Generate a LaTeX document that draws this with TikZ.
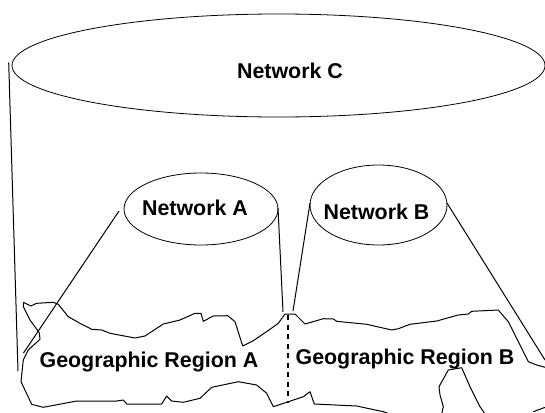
\documentclass[tikz,border=0pt]{standalone}
\usepackage{fontspec}
\setmainfont{Liberation Sans}
\usetikzlibrary{shapes.geometric}
\tikzset{
  netell/.style={ellipse,draw=black,line width=0.8pt,inner sep=0pt,fill=none},
  lab/.style={font=\fontsize{21.4}{24}\selectfont\bfseries,inner sep=0pt,text=black},
  wire/.style={draw=black,line width=1pt},
  outline/.style={draw=black,line width=1pt,line join=round},
  regionsplit/.style={draw=black,line width=1.9pt,dash pattern=on 5pt off 4.5pt}
}
\begin{document}
\begin{tikzpicture}[x=1pt,y=-1pt]
\useasboundingbox (0,0) rectangle (545,412);
\clip (0,0) rectangle (545,412);
\node[netell,minimum width=533pt,minimum height=103pt] (netC) at (278.5,65.5) {};
\node[netell,minimum width=154pt,minimum height=72pt] (netA) at (201,209) {};
\node[netell,minimum width=137pt,minimum height=80pt] (netB) at (378.5,205) {};
\node[lab] (tC) at (290,70.5) {Network C};
\node[lab] (tA) at (195,208) {Network A};
\node[lab] (tB) at (376.5,212) {Network B};
\node[lab] (tGA) at (149,362) {Geographic Region A};
\node[lab] (tGB) at (405,359) {Geographic Region B};
\coordinate (cs) at (8.7,62.5);
\coordinate (ce) at (18,371);
\coordinate (als) at (119,211);
\coordinate (ale) at (23.5,353);
\coordinate (ars) at (278,208);
\coordinate (are) at (283,312);
\coordinate (bls) at (310,203);
\coordinate (ble) at (293,311);
\coordinate (brs) at (447,203);
\coordinate (bre) at (545,360);
\coordinate (ds) at (288,315);
\coordinate (de) at (288,403);
\draw[wire] (cs) -- (ce);
\draw[wire] (als) -- (ale);
\draw[wire] (ars) -- (are);
\draw[wire] (bls) -- (ble);
\draw[wire] (brs) -- (bre);
\draw[regionsplit] (ds) -- (de);
\draw[outline] (23.3,302.3) -- (30.7,306) -- (36.7,303.3) -- (53.3,302.3) -- (58.3,304.3) -- (68.3,316.7) -- (80,323.3) -- (91.7,329.3) -- (101.7,330) -- (110,333.3) -- (135,338) -- (145,336) -- (163.3,324) -- (180,320) -- (195,313.3) -- (201,313.3) -- (203.3,321.3) -- (213.3,316) -- (227.7,315.7) -- (235,321.7) -- (242.7,346) -- (253.3,340.7) -- (270,329.3) -- (278.3,323.3) -- (285,314) -- (295,314) -- (305,324) -- (323.3,318.7) -- (333.3,319) -- (336.7,321.3) -- (366.7,324.3) -- (391.7,330) -- (398.3,328.7) -- (410,324.3) -- (436.7,321) -- (458.3,315) -- (468.3,314) -- (471.7,311.3) -- (498.3,310) -- (508.3,321.7) -- (513.3,331.7) -- (528.3,361.7) -- (536.7,365) -- (546,367.5);
\draw[outline] (23.3,302.3) -- (23.3,306.7) -- (30,320) -- (39.3,332.7) -- (40,339.3) -- (28.3,350) -- (23.3,360) -- (21,381.7) -- (31.7,404.3) -- (43.3,407.3) -- (76.7,401) -- (116.7,401) -- (123.3,400) -- (126.7,404) -- (161.7,404) -- (166.7,396) -- (171.7,401) -- (183.3,402.3) -- (200,398.3) -- (211.7,387.3) -- (238.3,381.7) -- (256.7,385) -- (266.7,393.3) -- (273.3,406.7) -- (286.7,402.3) -- (303.3,396.7) -- (310,391.7) -- (314.3,404) -- (356.7,406) -- (383.3,411.7) -- (390,414);
\draw[outline] (441.7,414) -- (443.3,406.7) -- (440,395) -- (439,386.7) -- (448.3,370) -- (461.7,367.7) -- (470,386.7) -- (480,406.7) -- (485,414);
\draw[outline] (533.3,411.7) -- (546,407);
\end{tikzpicture}
\end{document}
